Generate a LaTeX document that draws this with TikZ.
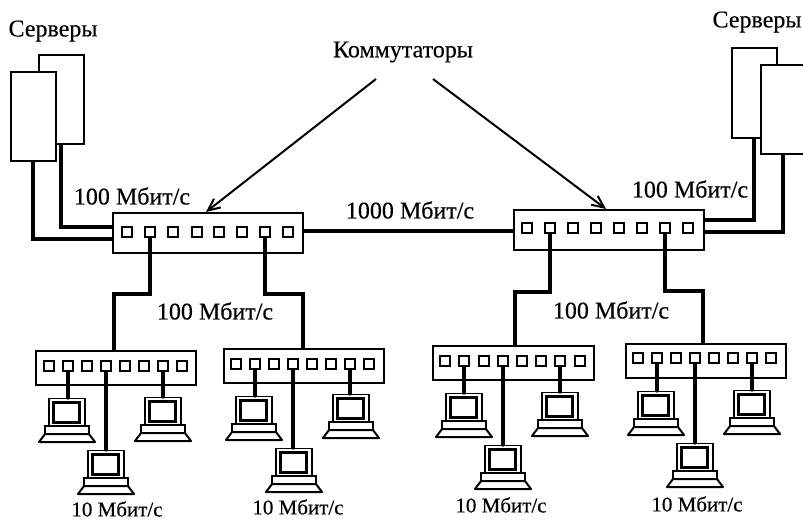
\documentclass[tikz,border=0pt]{standalone}
\usepackage{fontspec}
\setmainfont[FakeBold=0.35]{Liberation Serif}
\usetikzlibrary{arrows.meta}
\tikzset{
  x=1pt,y=-1pt,
  lbl/.style={inner sep=0pt,font=\fontsize{24}{26}\selectfont},
  slbl/.style={inner sep=0pt,font=\fontsize{21}{23}\selectfont},
  srv/.style={draw,line width=2.2pt,fill=white,inner sep=0pt,anchor=north west},
  swbox/.style={draw,line width=2.2pt,fill=white,inner sep=0pt,minimum width=#1,minimum height=34pt,anchor=north west},
  bigbox/.style={draw,line width=2.2pt,fill=white,inner sep=0pt,minimum width=190pt,minimum height=40pt,anchor=north west},
  port/.style={draw,line width=2.2pt,fill=white,inner sep=0pt,minimum size=10.5pt},
  wire/.style={line width=3.2pt,line cap=round,line join=miter},
  pointer/.style={line width=2pt,-{Straight Barb[length=12pt,width=11pt,line width=2pt]}},
  pics/laptop/.style={code={
    \node[draw=black,line width=1.4pt,fill=white,inner sep=0pt,minimum width=36pt,minimum height=29pt,anchor=north] (-mon) at (0,0) {};
    \draw[line width=3pt,fill=white] (-13.5,4) rectangle (12.5,24.5);
    \draw[line width=2pt,fill=white] (-22,28) rectangle (22,36);
    \draw[line width=2pt,fill=white,line join=round] (-22,36) -- (22,36) -- (28,44) -- (-28,44) -- cycle;
  }},
}
\begin{document}
\begin{tikzpicture}
\useasboundingbox (0,0) rectangle (803,520);
\coordinate (lbk) at (61,227);
\coordinate (lfr) at (33,239);
\coordinate (rbk) at (754,220);
\coordinate (rfr) at (783,232);
% servers
\node[srv,minimum width=45pt,minimum height=89pt] (sl1) at (38,54) {};
\node[srv,minimum width=45pt,minimum height=89pt] (sl2) at (10,71) {};
\node[srv,minimum width=45pt,minimum height=90pt] (sr1) at (731,47) {};
\begin{scope}
\clip (0,0) rectangle (803,520);
\node[srv,minimum width=60pt,minimum height=89pt] (sr2) at (760,64) {};
\end{scope}
% switches
\node[bigbox] (L) at (112,212) {};
\node[bigbox] (R) at (513,209) {};
\node[swbox=160pt] (A) at (35,350) {};
\node[swbox=160pt] (B) at (223,348) {};
\node[swbox=161pt] (C) at (432,345) {};
\node[swbox=160pt] (D) at (625,343) {};
% ports
\foreach \n/\px in {1/127,2/150,3/173,4/197,5/219,6/242,7/265,8/288} \node[port] (L\n) at (\px,232) {};
\foreach \n/\px in {1/527,2/550,3/573,4/596,5/619,6/642,7/665,8/688} \node[port] (R\n) at (\px,228) {};
\foreach \n/\px in {1/49,2/68,3/87,4/106,5/125,6/144,7/163,8/182} \node[port] (A\n) at (\px,366) {};
\foreach \n/\px in {1/236,2/255,3/274,4/293,5/312,6/331,7/350,8/369} \node[port] (B\n) at (\px,364) {};
\foreach \n/\px in {1/445,2/464,3/484,4/503,5/522,6/541,7/560,8/580} \node[port] (C\n) at (\px,361) {};
\foreach \n/\px in {1/638,2/657,3/676,4/695,5/714,6/733,7/752,8/771} \node[port] (D\n) at (\px,358) {};
% server links
\draw[wire] (sl1.south -| lbk) -- (lbk) -- (lbk -| L.west);
\draw[wire] (sl2.south -| lfr) -- (lfr) -- (lfr -| L.west);
\draw[wire] (sr1.south -| rbk) -- (rbk) -- (rbk -| R.east);
\draw[wire] (sr2.south -| rfr) -- (rfr) -- (rfr -| R.east);
% backbone
\draw[wire] (L.east |- 0,231) -- (R.west |- 0,231);
% uplinks
\draw[wire] (L2.south) |- (114,294) -- (A.north -| 114,0);
\draw[wire] (L7.south) |- (303,294) -- (B.north -| 303,0);
\draw[wire] (R2.south) |- (515,292) -- (C.north -| 515,0);
\draw[wire] (R7.south) |- (703,291) -- (D.north -| 703,0);
% laptops
\pic (a1) at (67,398) {laptop};
\pic (a2) at (106,450) {laptop};
\pic (a3) at (163,397) {laptop};
\pic (b1) at (254,396) {laptop};
\pic (b2) at (294,448) {laptop};
\pic (b3) at (351,394) {laptop};
\pic (c1) at (464,393) {laptop};
\pic (c2) at (503,445) {laptop};
\pic (c3) at (560,392) {laptop};
\pic (d1) at (656,391) {laptop};
\pic (d2) at (695,443) {laptop};
\pic (d3) at (752,390) {laptop};
\draw[wire] (A2.south) -- (A2.south |- a1-mon.north);
\draw[wire] (A4.south) -- (A4.south |- a2-mon.north);
\draw[wire] (A7.south) -- (A7.south |- a3-mon.north);
\draw[wire] (B2.south) -- (B2.south |- b1-mon.north);
\draw[wire] (B4.south) -- (B4.south |- b2-mon.north);
\draw[wire] (B7.south) -- (B7.south |- b3-mon.north);
\draw[wire] (C2.south) -- (C2.south |- c1-mon.north);
\draw[wire] (C4.south) -- (C4.south |- c2-mon.north);
\draw[wire] (C7.south) -- (C7.south |- c3-mon.north);
\draw[wire] (D2.south) -- (D2.south |- d1-mon.north);
\draw[wire] (D4.south) -- (D4.south |- d2-mon.north);
\draw[wire] (D7.south) -- (D7.south |- d3-mon.north);
% labels
\node[lbl] (t1) at (53,31) {Серверы};
\node[lbl] (t2) at (757,22) {Серверы};
\node[lbl] (t3) at (403,52) {Коммутаторы};
\node[lbl] (t4) at (132,196) {100 Мбит/с};
\node[lbl] (t5) at (690,189) {100 Мбит/с};
\node[lbl] (t6) at (410,210) {1000 Мбит/с};
\node[lbl] (t7) at (215,311) {100 Мбит/с};
\node[lbl] (t8) at (611,310) {100 Мбит/с};
\node[slbl] (t9) at (117,509) {10 Мбит/с};
\node[slbl] (t10) at (298,507) {10 Мбит/с};
\node[slbl] (t11) at (501,505) {10 Мбит/с};
\node[slbl] (t12) at (697,504) {10 Мбит/с};
% pointers
\coordinate (p1) at (376,79);
\coordinate (p2) at (433,79);
\draw[pointer] (p1) -- (L.north -| 206,0);
\draw[pointer] (p2) -- (R.north -| 606,0);
\end{tikzpicture}
\end{document}
